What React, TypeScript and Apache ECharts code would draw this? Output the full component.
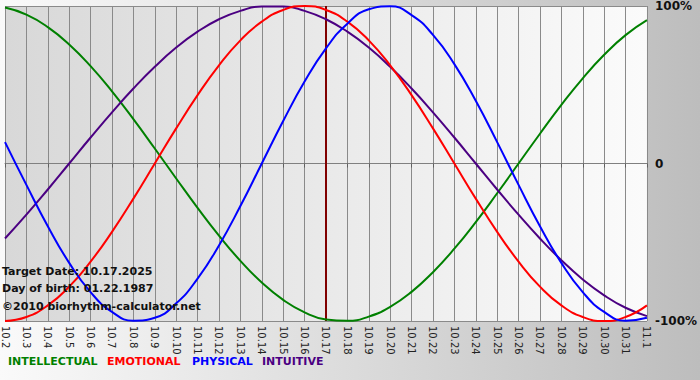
import React, { useEffect, useRef } from "react";
import * as echarts from "echarts";

const days = [
  "10.2", "10.3", "10.4", "10.5", "10.6", "10.7", "10.8", "10.9", "10.10", "10.11",
  "10.12", "10.13", "10.14", "10.15", "10.16", "10.17", "10.18", "10.19", "10.20", "10.21",
  "10.22", "10.23", "10.24", "10.25", "10.26", "10.27", "10.28", "10.29", "10.30", "10.31", "11.1",
];

const intellectual = [
  0.99, 0.945, 0.866, 0.756, 0.618, 0.458, 0.282, 0.095, -0.095, -0.282,
  -0.458, -0.618, -0.756, -0.866, -0.945, -0.99, -0.999, -0.972, -0.91, -0.815,
  -0.69, -0.541, -0.372, -0.189, 0, 0.189, 0.372, 0.541, 0.69, 0.815, 0.91,
];

const emotional = [
  -1, -0.975, -0.901, -0.782, -0.623, -0.434, -0.223, 0, 0.223, 0.434,
  0.623, 0.782, 0.901, 0.975, 1, 0.975, 0.901, 0.782, 0.623, 0.434,
  0.223, 0, -0.223, -0.434, -0.623, -0.782, -0.901, -0.975, -1, -0.975, -0.901,
];

const physical = [
  0.136, -0.136, -0.398, -0.631, -0.817, -0.942, -0.998, -0.979, -0.888, -0.731,
  -0.52, -0.27, 0, 0.27, 0.52, 0.731, 0.888, 0.979, 0.998, 0.942,
  0.817, 0.631, 0.398, 0.136, -0.136, -0.398, -0.631, -0.817, -0.942, -0.998, -0.979,
];

const intuitive = [
  -0.476, -0.325, -0.165, 0, 0.165, 0.325, 0.476, 0.614, 0.736, 0.837,
  0.916, 0.969, 0.997, 0.997, 0.969, 0.916, 0.837, 0.736, 0.614, 0.476,
  0.325, 0.165, 0, -0.165, -0.325, -0.476, -0.614, -0.736, -0.837, -0.916, -0.969,
];

const targetDay = "10.17";
const yTicks: Record<string, string> = { "1": "100%", "0": "0", "-1": "-100%" };

const legendItems = [
  { name: "INTELLECTUAL", color: "#008000", x: 8 },
  { name: "EMOTIONAL", color: "#ff0000", x: 107 },
  { name: "PHYSICAL", color: "#0000ff", x: 192 },
  { name: "INTUITIVE", color: "#4b0082", x: 262 },
];

const infoLines = [
  "Target Date: 10.17.2025",
  "Day of birth: 01.22.1987",
  "\u00a92010 biorhythm-calculator.net",
];

export default function App() {
  const ref = useRef<HTMLDivElement>(null);
  useEffect(() => {
    if (!ref.current) return;
    const chart = echarts.init(ref.current, null, { renderer: "svg" });
    const font = "DejaVu Sans, Verdana, sans-serif";
    const mkLine = (name: string, data: number[], color: string, extra: any = {}) => ({
      name,
      type: "line",
      data,
      smooth: true,
      symbol: "none",
      lineStyle: { color, width: 2 },
      itemStyle: { color },
      z: 3,
      ...extra,
    });
    chart.setOption({
      animation: false,
      backgroundColor: {
        type: "linear", x: 0, y: 0, x2: 1, y2: 0,
        colorStops: [
          { offset: 0, color: "#fafafa" },
          { offset: 1, color: "#bdbdbd" },
        ],
      },
      grid: {
        left: 0, right: 50, top: 1, bottom: 59,
        show: true,
        borderWidth: 0,
        backgroundColor: {
          type: "linear", x: 0, y: 0, x2: 1, y2: 0,
          colorStops: [
            { offset: 0, color: "#d8d8d8" },
            { offset: 1, color: "#fbfbfb" },
          ],
        },
      },
      xAxis: {
        type: "category",
        data: days,
        boundaryGap: false,
        axisLine: { show: true, lineStyle: { color: "#808080", width: 1 } },
        axisTick: { show: true, length: 4, interval: 0, lineStyle: { color: "#606060" } },
        splitLine: { show: true, interval: 0, lineStyle: { color: "#8a8a8a", width: 1 } },
        axisLabel: {
          interval: 0,
          rotate: -90,
          margin: 5,
          fontSize: 10,
          fontFamily: font,
          color: "#222",
        },
      },
      yAxis: {
        type: "value",
        min: -1,
        max: 1,
        interval: 1,
        position: "right",
        axisLine: { show: false },
        axisTick: { show: false },
        splitLine: { show: true, lineStyle: { color: "#8a8a8a", width: 1 } },
        axisLabel: {
          margin: 8,
          fontSize: 12,
          fontWeight: "bold",
          fontFamily: font,
          color: "#111",
          formatter: (v: number) => yTicks[String(v)] ?? "",
        },
      },
      series: [
        mkLine("INTELLECTUAL", intellectual, "#008000"),
        mkLine("INTUITIVE", intuitive, "#4b0082"),
        mkLine("EMOTIONAL", emotional, "#ff0000"),
        mkLine("PHYSICAL", physical, "#0000ff", {
          markLine: {
            silent: true,
            symbol: "none",
            label: { show: false },
            lineStyle: { color: "#800000", width: 2, type: "solid" },
            data: [{ xAxis: targetDay }],
            z: 2,
          },
        }),
      ],
      graphic: [
        ...infoLines.map((t, i) => ({
          type: "text",
          x: 2,
          y: 271 + i * 17.5,
          z: 10,
          style: {
            text: t,
            fill: "#111",
            font: `bold 11px ${font}`,
            textVerticalAlign: "middle",
          },
        })),
        ...legendItems.map((l) => ({
          type: "text",
          x: l.x,
          y: 361,
          style: {
            text: l.name,
            fill: l.color,
            font: `bold 11px ${font}`,
            textVerticalAlign: "middle",
          },
        })),
      ],
    });
    return () => chart.dispose();
  }, []);
  return (
    <div
      ref={ref}
      style={{ position: "absolute", left: 0, top: 0, width: 700, height: 380 }}
    />
  );
}
